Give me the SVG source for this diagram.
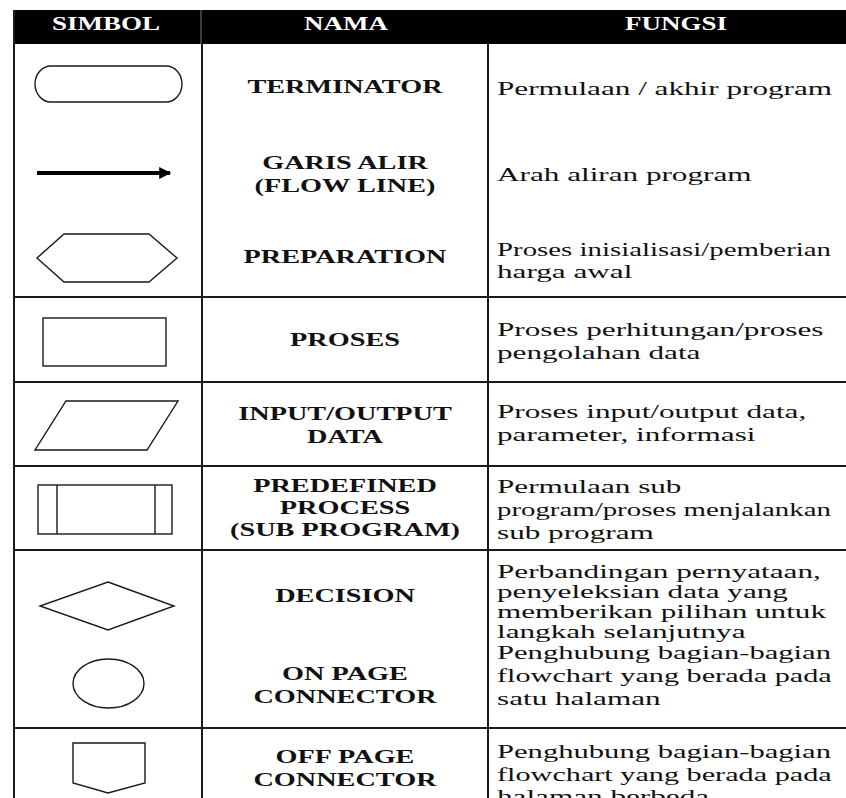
<svg xmlns="http://www.w3.org/2000/svg" width="846" height="798" viewBox="0 0 846 798">
<style>
.grid{stroke:#1a1a1a;stroke-width:2;fill:none}
.shape{stroke:#1a1a1a;stroke-width:1.4;fill:#fff}
.hd{font-family:"Liberation Serif","Times New Roman",serif;font-weight:bold;font-size:19px;fill:#fff;text-anchor:middle}
.nm{font-family:"Liberation Serif","Times New Roman",serif;font-weight:bold;font-size:19.5px;fill:#111;text-anchor:middle}
.fn{font-family:"Liberation Serif","Times New Roman",serif;font-size:19.5px;fill:#111}
</style>
<defs>
<marker id="ah" viewBox="0 0 10 10" refX="9" refY="5" markerWidth="4.5" markerHeight="3" markerUnits="strokeWidth" orient="auto">
<path d="M0,0 L10,5 L0,10 Z" fill="#000"/>
</marker>
</defs>
<rect width="846" height="798" fill="#fff"/>

<g id="header">
<rect x="13" y="10" width="833" height="34" fill="#000"/>
<line x1="201" y1="10" x2="201" y2="44" stroke="#777" stroke-width="1"/>
<text class="hd" transform="translate(106,30) scale(1.42,1)">SIMBOL</text>
<text class="hd" transform="translate(346,30) scale(1.42,1)">NAMA</text>
<text class="hd" transform="translate(676,30) scale(1.42,1)">FUNGSI</text>
</g>

<g id="grid" class="grid">
<line x1="14" y1="10" x2="14" y2="798"/>
<line x1="202" y1="44" x2="202" y2="798"/>
<line x1="488" y1="44" x2="488" y2="798"/>
<line x1="14" y1="297" x2="846" y2="297"/>
<line x1="14" y1="382" x2="846" y2="382"/>
<line x1="14" y1="466" x2="846" y2="466"/>
<line x1="14" y1="550" x2="846" y2="550"/>
<line x1="14" y1="728" x2="846" y2="728"/>
</g>

<g id="row-terminator">
<rect class="shape" x="35" y="66" width="147" height="36" rx="16" ry="18"/>
<text class="nm" transform="translate(345,93) scale(1.45,1)">TERMINATOR</text>
<text class="fn" transform="translate(497,95) scale(1.6,1)">Permulaan / akhir program</text>
</g>

<g id="row-flowline">
<g id="connectors">
<line x1="37" y1="173" x2="170" y2="173" stroke="#000" stroke-width="4" marker-end="url(#ah)"/>
</g>
<text class="nm" transform="translate(345,169) scale(1.45,1)">GARIS ALIR</text>
<text class="nm" transform="translate(345,192) scale(1.45,1)">(FLOW LINE)</text>
<text class="fn" transform="translate(497,181) scale(1.6,1)">Arah aliran program</text>
</g>

<g id="row-preparation">
<polygon class="shape" points="37,258 64,234 149,234 177,258 149,282 64,282"/>
<text class="nm" transform="translate(345,263) scale(1.45,1)">PREPARATION</text>
<text class="fn" transform="translate(497,256) scale(1.48,1)">Proses inisialisasi/pemberian</text>
<text class="fn" transform="translate(497,278) scale(1.6,1)">harga awal</text>
</g>

<g id="row-proses">
<rect class="shape" x="43" y="318" width="123" height="48"/>
<text class="nm" transform="translate(345,346) scale(1.45,1)">PROSES</text>
<text class="fn" transform="translate(497,336) scale(1.6,1)">Proses perhitungan/proses</text>
<text class="fn" transform="translate(497,359) scale(1.6,1)">pengolahan data</text>
</g>

<g id="row-io">
<polygon class="shape" points="66,401 178,401 147,450 35,450"/>
<text class="nm" transform="translate(345,420) scale(1.45,1)">INPUT/OUTPUT</text>
<text class="nm" transform="translate(345,443) scale(1.45,1)">DATA</text>
<text class="fn" transform="translate(497,418) scale(1.6,1)">Proses input/output data,</text>
<text class="fn" transform="translate(497,441) scale(1.6,1)">parameter, informasi</text>
</g>

<g id="row-predefined">
<rect class="shape" x="38" y="485" width="134" height="49"/>
<line class="shape" x1="57" y1="485" x2="57" y2="534"/>
<line class="shape" x1="155" y1="485" x2="155" y2="534"/>
<text class="nm" transform="translate(345,492) scale(1.45,1)">PREDEFINED</text>
<text class="nm" transform="translate(345,514) scale(1.45,1)">PROCESS</text>
<text class="nm" transform="translate(345,536) scale(1.45,1)">(SUB PROGRAM)</text>
<text class="fn" transform="translate(497,493) scale(1.6,1)">Permulaan sub</text>
<text class="fn" transform="translate(497,516) scale(1.48,1)">program/proses menjalankan</text>
<text class="fn" transform="translate(497,539) scale(1.6,1)">sub program</text>
</g>

<g id="row-decision">
<polygon class="shape" points="108,582 174,606 108,630 40,606"/>
<text class="nm" transform="translate(345,602) scale(1.45,1)">DECISION</text>
<text class="fn" transform="translate(497,578) scale(1.6,1)">Perbandingan pernyataan,</text>
<text class="fn" transform="translate(497,598) scale(1.6,1)">penyeleksian data yang</text>
<text class="fn" transform="translate(497,618) scale(1.6,1)">memberikan pilihan untuk</text>
<text class="fn" transform="translate(497,638) scale(1.6,1)">langkah selanjutnya</text>
</g>

<g id="row-onpage">
<ellipse class="shape" cx="108.5" cy="683.5" rx="35.5" ry="24.5"/>
<text class="nm" transform="translate(345,680) scale(1.45,1)">ON PAGE</text>
<text class="nm" transform="translate(345,703) scale(1.45,1)">CONNECTOR</text>
<text class="fn" transform="translate(497,659) scale(1.57,1)">Penghubung bagian-bagian</text>
<text class="fn" transform="translate(497,682) scale(1.55,1)">flowchart yang berada pada</text>
<text class="fn" transform="translate(497,705) scale(1.6,1)">satu halaman</text>
</g>

<g id="row-offpage">
<polygon class="shape" points="73,743 145,743 145,783 108,793 73,783"/>
<text class="nm" transform="translate(345,763) scale(1.45,1)">OFF PAGE</text>
<text class="nm" transform="translate(345,786) scale(1.45,1)">CONNECTOR</text>
<text class="fn" transform="translate(497,758) scale(1.57,1)">Penghubung bagian-bagian</text>
<text class="fn" transform="translate(497,781) scale(1.55,1)">flowchart yang berada pada</text>
<text class="fn" transform="translate(497,803) scale(1.6,1)">halaman berbeda</text>
</g>
</svg>
